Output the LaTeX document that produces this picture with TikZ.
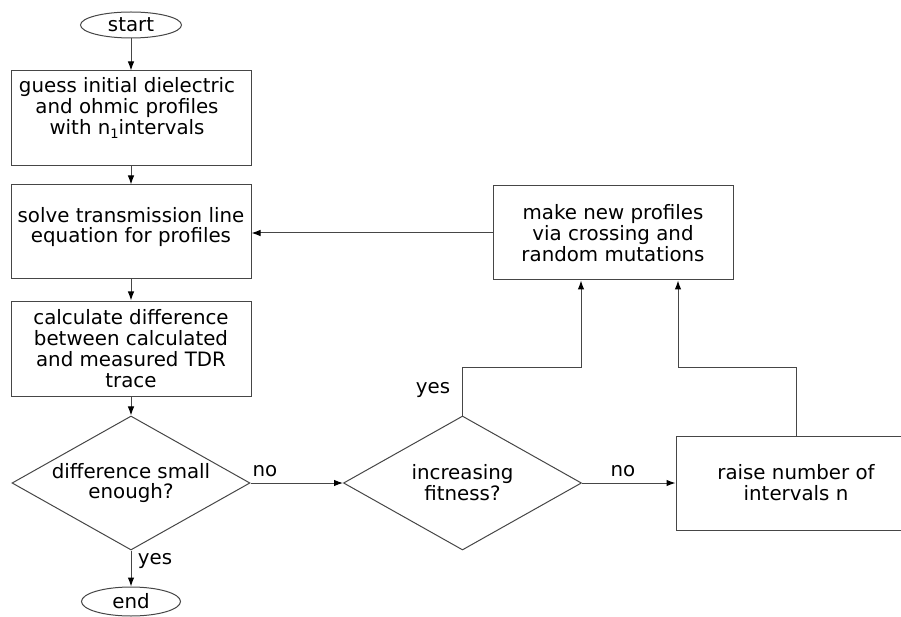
\documentclass[tikz,border=0pt]{standalone}
\usepackage{fontspec}
\setmainfont{DejaVu Sans}
\usetikzlibrary{shapes.geometric,arrows.meta}
\definecolor{lc}{RGB}{70,70,70}
\begin{document}
\begin{tikzpicture}[x=1pt,y=-1pt,
  every node/.style={font=\fontsize{19.8}{20.8}\selectfont,text=black,align=center,inner sep=0pt},
  boxshape/.style={draw=lc,line width=1pt,rectangle,minimum width=240pt,minimum height=94pt},
  term/.style={draw=lc,line width=1pt,ellipse},
  decision/.style={draw=lc,line width=1pt,diamond,aspect=1.77,minimum width=238pt,minimum height=134pt},
  arr/.style={draw=lc,line width=1pt,-{Latex[length=9pt,width=6.5pt,color=black]}},
  conn/.style={draw=lc,line width=1pt}]
\clip (0,0) rectangle (901,617);
% terminals
\node[term,minimum width=101pt,minimum height=26pt] (start) at (131,25) {start};
\node[term,minimum width=99pt,minimum height=29pt] (end) at (131,601.5) {end};
% boxes
\node[boxshape,minimum height=95pt] (g1) at (131,118.5) {};
\node (g1t) at (127,108) {guess initial dielectric\\and ohmic profiles\\with n\raisebox{-4pt}{\fontsize{13}{13}\selectfont 1}intervals};
\node[boxshape] (g2) at (131,232) {};
\node (g2t) at (131,227) {solve transmission line\\equation for profiles};
\node[boxshape,minimum height=95pt] (g3) at (131,348.5) {calculate difference\\between calculated\\and measured TDR\\trace};
\node[boxshape] (new) at (613,233) {make new profiles\\via crossing and\\random mutations};
\node[boxshape] (raise) at (796,483) {raise number of\\intervals n};
% decisions
\node[decision] (d1) at (131,483) {difference small\\enough?};
\node[decision] (d2) at (462.5,483) {increasing\\fitness?};
% junctions
\coordinate (j1) at (581,367);
\coordinate (j2) at (678,367);
% connectors
\draw[arr] (start) -- (g1);
\draw[arr] (g1) -- (g2);
\draw[arr] (g2) -- (g3);
\draw[arr] (g3) -- (d1);
\draw[arr] (d1.south) -- (end.north);
\draw[arr] (d1.east) -- (d2.west);
\draw[arr] (d2.east) -- (raise.west);
\draw[arr] (d2.north) -- (d2.north |- j1) -- (j1) -- (j1 |- new.south);
\draw[arr] (raise.north) -- (raise.north |- j2) -- (j2) -- (j2 |- new.south);
\draw[arr] (new.west) -- (new.west -| g2.east);
% labels
\node (no1) at (265,471) {no};
\node (no2) at (623,471) {no};
\node (yes1) at (155,561) {yes};
\node (yes2) at (433,390) {yes};
\end{tikzpicture}
\end{document}
